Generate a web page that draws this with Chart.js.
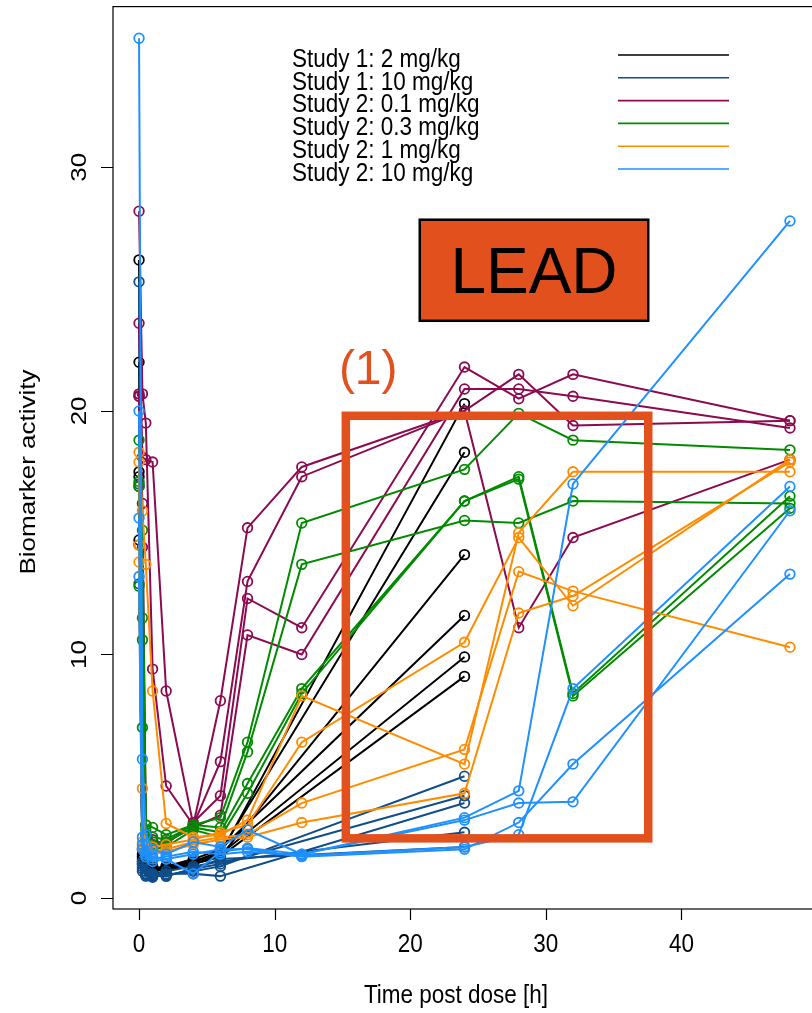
<!DOCTYPE html>
<html>
<head>
<meta charset="utf-8">
<script src="https://cdn.jsdelivr.net/npm/chart.js@4"></script>
<style>
  html, body { margin: 0; padding: 0; background: #fff; overflow: hidden; width: 812px; height: 1013px; }
  #wrap { position: absolute; left: 0; top: 0; width: 830px; height: 1013px; }
</style>
</head>
<body>
<div id="wrap"><canvas id="c" width="830" height="1013"></canvas></div>
<script>
// Sampling times (hours post dose)
const study1Times = [0, 0.25, 0.5, 1, 2, 4, 6, 24];
const study2Times = [0, 0.25, 0.5, 1, 2, 4, 6, 8, 12, 24, 28, 32, 48];

// Biomarker activity per subject, one row per subject
const study1Dose2 = [
  [26.2, 2.0, 1.6, 1.3, 1.2, 1.4, 1.8, 20.3],
  [22.0, 1.8, 1.4, 1.2, 1.3, 1.5, 1.9, 18.3],
  [17.5, 1.7, 1.3, 1.2, 1.2, 1.4, 1.7, 14.1],
  [17.3, 1.6, 1.5, 1.1, 1.3, 1.6, 2.0, 11.6],
  [14.7, 1.5, 1.2, 1.1, 1.2, 1.5, 1.8, 9.9],
  [14.5, 1.4, 1.2, 1.0, 1.1, 1.4, 1.7, 9.1]
];
const study1Dose10 = [
  [25.3, 1.5, 1.0, 0.9, 0.95, 1.1, 1.3, 5.0],
  [20.6, 1.4, 1.1, 1.0, 0.9, 1.2, 1.4, 4.2],
  [17.0, 1.3, 0.9, 0.85, 1.0, 1.0, 0.9, 3.9],
  [16.9, 1.2, 1.0, 0.95, 1.1, 1.3, 1.5, 2.7],
  [12.9, 1.1, 0.95, 0.9, 0.9, 1.2, 1.6, 2.1]
];
const study2Dose01 = [
  [28.2, 20.7, 19.5, 9.4, 4.6, 3.0, 8.1, 15.2, 17.7, 20.0, 11.1, 14.8, 18.0],
  [23.6, 18.1, 18.0, 17.9, 8.5, 3.0, 5.6, 13.0, 17.3, 20.0, 21.5, 19.4, 19.6],
  [20.7, 16.2, 3.0, 2.4, 2.2, 3.1, 4.2, 12.3, 11.1, 21.8, 20.5, 21.5, 19.6],
  [20.6, 14.4, 2.6, 2.1, 2.3, 2.9, 3.4, 10.8, 10.0, 20.9, 20.9, 20.6, 19.3]
];
const study2Dose03 = [
  [18.8, 15.1, 3.0, 2.9, 2.6, 3.0, 3.3, 6.4, 15.4, 17.6, 19.9, 18.8, 18.4],
  [17.1, 11.5, 2.8, 2.5, 2.4, 3.0, 2.9, 6.0, 13.7, 15.5, 15.4, 16.3, 16.2],
  [16.9, 10.6, 2.4, 2.2, 2.3, 2.9, 2.7, 4.7, 8.6, 16.3, 17.3, 8.4, 16.5],
  [12.8, 7.0, 2.2, 2.0, 2.1, 2.8, 2.5, 4.3, 8.4, 16.3, 17.2, 8.3, 16.0]
];
const study2Dose1 = [
  [18.3, 15.9, 13.7, 8.5, 3.06, 2.5, 2.6, 3.2, 8.3, 5.5, 15.0, 17.5, 17.5],
  [17.9, 4.5, 2.2, 2.1, 2.2, 2.4, 2.7, 3.0, 6.4, 10.5, 14.8, 12.0, 18.0],
  [14.5, 2.3, 2.0, 1.9, 2.0, 2.3, 2.5, 2.6, 3.9, 6.1, 13.4, 12.6, 10.3],
  [13.8, 2.1, 1.9, 1.8, 1.9, 2.2, 2.4, 2.5, 3.1, 4.3, 11.7, 12.4, 17.9]
];
const study2Dose10 = [
  [35.3, 5.7, 2.6, 2.0, 1.8, 2.3, 2.1, 2.8, 1.8, 3.3, 4.4, 17.0, 27.8],
  [20.0, 2.5, 1.9, 1.7, 1.6, 1.0, 1.9, 2.05, 1.8, 3.2, 3.9, 3.95, 15.9],
  [15.6, 2.2, 1.8, 1.6, 1.7, 1.9, 1.8, 1.9, 1.75, 2.1, 2.6, 8.6, 16.9],
  [13.2, 2.0, 1.7, 1.5, 1.6, 1.8, 2.0, 2.0, 1.7, 2.0, 3.1, 5.5, 13.3]
];

const groupLabels = ['Study 1: 2 mg/kg', 'Study 1: 10 mg/kg', 'Study 2: 0.1 mg/kg',
                     'Study 2: 0.3 mg/kg', 'Study 2: 1 mg/kg', 'Study 2: 10 mg/kg'];
const groupTimes = [study1Times, study1Times, study2Times, study2Times, study2Times, study2Times];
const groupValues = [study1Dose2, study1Dose10, study2Dose01, study2Dose03, study2Dose1, study2Dose10];
const groupColors = ['#000000', '#104E8B', '#8B0A50', '#008B00', '#FF8C00', '#1E90FF'];

const xTicks = [0, 10, 20, 30, 40];
const yTicks = [0, 10, 20, 30];
const xTitle = 'Time post dose [h]';
const yTitle = 'Biomarker activity';

// Highlight annotations (data units)
const windowRect = { x0: 15.25, x1: 37.55, y0: 2.45, y1: 19.8 };
const windowLabel = { text: '(1)', x: 16.9, y: 21.7 };
const leadBox = { text: 'LEAD', x0: 20.7, x1: 37.55, y0: 23.7, y1: 27.85 };
const accent = '#E2501E';

const FONT = '"Liberation Sans", Arial, Helvetica, sans-serif';

function drawText(ctx, str, x, y, size, o) {
  o = o || {};
  ctx.save();
  ctx.translate(x, y);
  if (o.rotate) ctx.rotate(o.rotate);
  ctx.scale(o.sx ?? 1, o.sy ?? 1);
  ctx.font = size + 'px ' + FONT;
  ctx.fillStyle = o.color || '#000';
  ctx.textAlign = o.align || 'center';
  ctx.textBaseline = o.baseline || 'alphabetic';
  ctx.fillText(str, 0, 0);
  ctx.restore();
}

const datasets = [];
let idx = 0;
groupValues.forEach((subjects, g) => {
  subjects.forEach(vals => {
    datasets.push({
      label: groupLabels[g],
      data: groupTimes[g].map((t, i) => ({ x: t, y: vals[i] })).filter(p => p.y != null),
      showLine: true,
      tension: 0,
      borderColor: groupColors[g],
      borderWidth: 2,
      pointRadius: 4.8,
      pointBorderWidth: 1.8,
      pointBorderColor: groupColors[g],
      pointBackgroundColor: 'rgba(0,0,0,0)',
      order: -idx
    });
    idx++;
  });
});

const decorations = {
  id: 'decorations',
  afterDatasetsDraw(chart) {
    const ctx = chart.ctx;
    const a = chart.chartArea;
    const xs = chart.scales.x, ys = chart.scales.y;
    const TXT = 26, SQ = 0.865;

    // plot frame
    ctx.save();
    ctx.strokeStyle = '#000';
    ctx.lineWidth = 1.2;
    ctx.strokeRect(a.left, a.top, a.right - a.left, a.bottom - a.top);

    // tick marks
    ctx.beginPath();
    xTicks.forEach(v => {
      const px = Math.round(xs.getPixelForValue(v)) + 0.5;
      ctx.moveTo(px, a.bottom); ctx.lineTo(px, a.bottom + 11);
    });
    yTicks.forEach(v => {
      const py = Math.round(ys.getPixelForValue(v)) + 0.5;
      ctx.moveTo(a.left, py); ctx.lineTo(a.left - 12, py);
    });
    ctx.stroke();
    ctx.restore();

    // tick labels
    xTicks.forEach(v => drawText(ctx, String(v), xs.getPixelForValue(v), 952, TXT, { sx: SQ }));
    yTicks.forEach(v => drawText(ctx, String(v), 86, ys.getPixelForValue(v), TXT,
      { rotate: -Math.PI / 2, sy: SQ }));

    // axis titles
    drawText(ctx, xTitle, 456, 1003, TXT, { sx: SQ });
    drawText(ctx, yTitle, 35, 472, TXT, { rotate: -Math.PI / 2, sy: SQ });

    // highlighted time window
    ctx.save();
    ctx.strokeStyle = accent;
    ctx.lineWidth = 8.5;
    const rx0 = xs.getPixelForValue(windowRect.x0), rx1 = xs.getPixelForValue(windowRect.x1);
    const ry0 = ys.getPixelForValue(windowRect.y1), ry1 = ys.getPixelForValue(windowRect.y0);
    ctx.strokeRect(rx0, ry0, rx1 - rx0, ry1 - ry0);
    ctx.restore();
    drawText(ctx, windowLabel.text, xs.getPixelForValue(windowLabel.x),
      ys.getPixelForValue(windowLabel.y) + 14, 48, { color: accent });

    // LEAD tag
    const bx0 = xs.getPixelForValue(leadBox.x0), bx1 = xs.getPixelForValue(leadBox.x1);
    const by0 = ys.getPixelForValue(leadBox.y1), by1 = ys.getPixelForValue(leadBox.y0);
    ctx.save();
    ctx.fillStyle = accent;
    ctx.fillRect(bx0, by0, bx1 - bx0, by1 - by0);
    ctx.strokeStyle = '#000';
    ctx.lineWidth = 2.5;
    ctx.strokeRect(bx0, by0, bx1 - bx0, by1 - by0);
    ctx.restore();
    drawText(ctx, leadBox.text, (bx0 + bx1) / 2, (by0 + by1) / 2 + 23, 64, {});

    // legend: labels on the left, line keys on the right
    groupLabels.forEach((lab, i) => {
      const yRow = 55 + 22.8 * i;
      drawText(ctx, lab, 292, yRow + 11.7, TXT, { sx: SQ, align: 'left' });
      ctx.save();
      ctx.strokeStyle = groupColors[i];
      ctx.lineWidth = 1.6;
      ctx.beginPath();
      ctx.moveTo(618, yRow); ctx.lineTo(729, yRow);
      ctx.stroke();
      ctx.restore();
    });
  }
};

new Chart(document.getElementById('c'), {
  type: 'scatter',
  data: { datasets },
  options: {
    responsive: false,
    animation: false,
    devicePixelRatio: 1,
    events: [],
    layout: { padding: { left: 0, top: 5, right: 14, bottom: 0 } },
    plugins: { legend: { display: false }, tooltip: { enabled: false } },
    scales: {
      x: {
        type: 'linear', min: -1.92, max: 49.92,
        grid: { display: false }, border: { display: false }, ticks: { display: false },
        afterFit: s => { s.height = 104; }
      },
      y: {
        type: 'linear', min: -0.45, max: 36.6,
        grid: { display: false }, border: { display: false }, ticks: { display: false },
        afterFit: s => { s.width = 113; }
      }
    }
  },
  plugins: [decorations]
});
</script>
</body>
</html>
